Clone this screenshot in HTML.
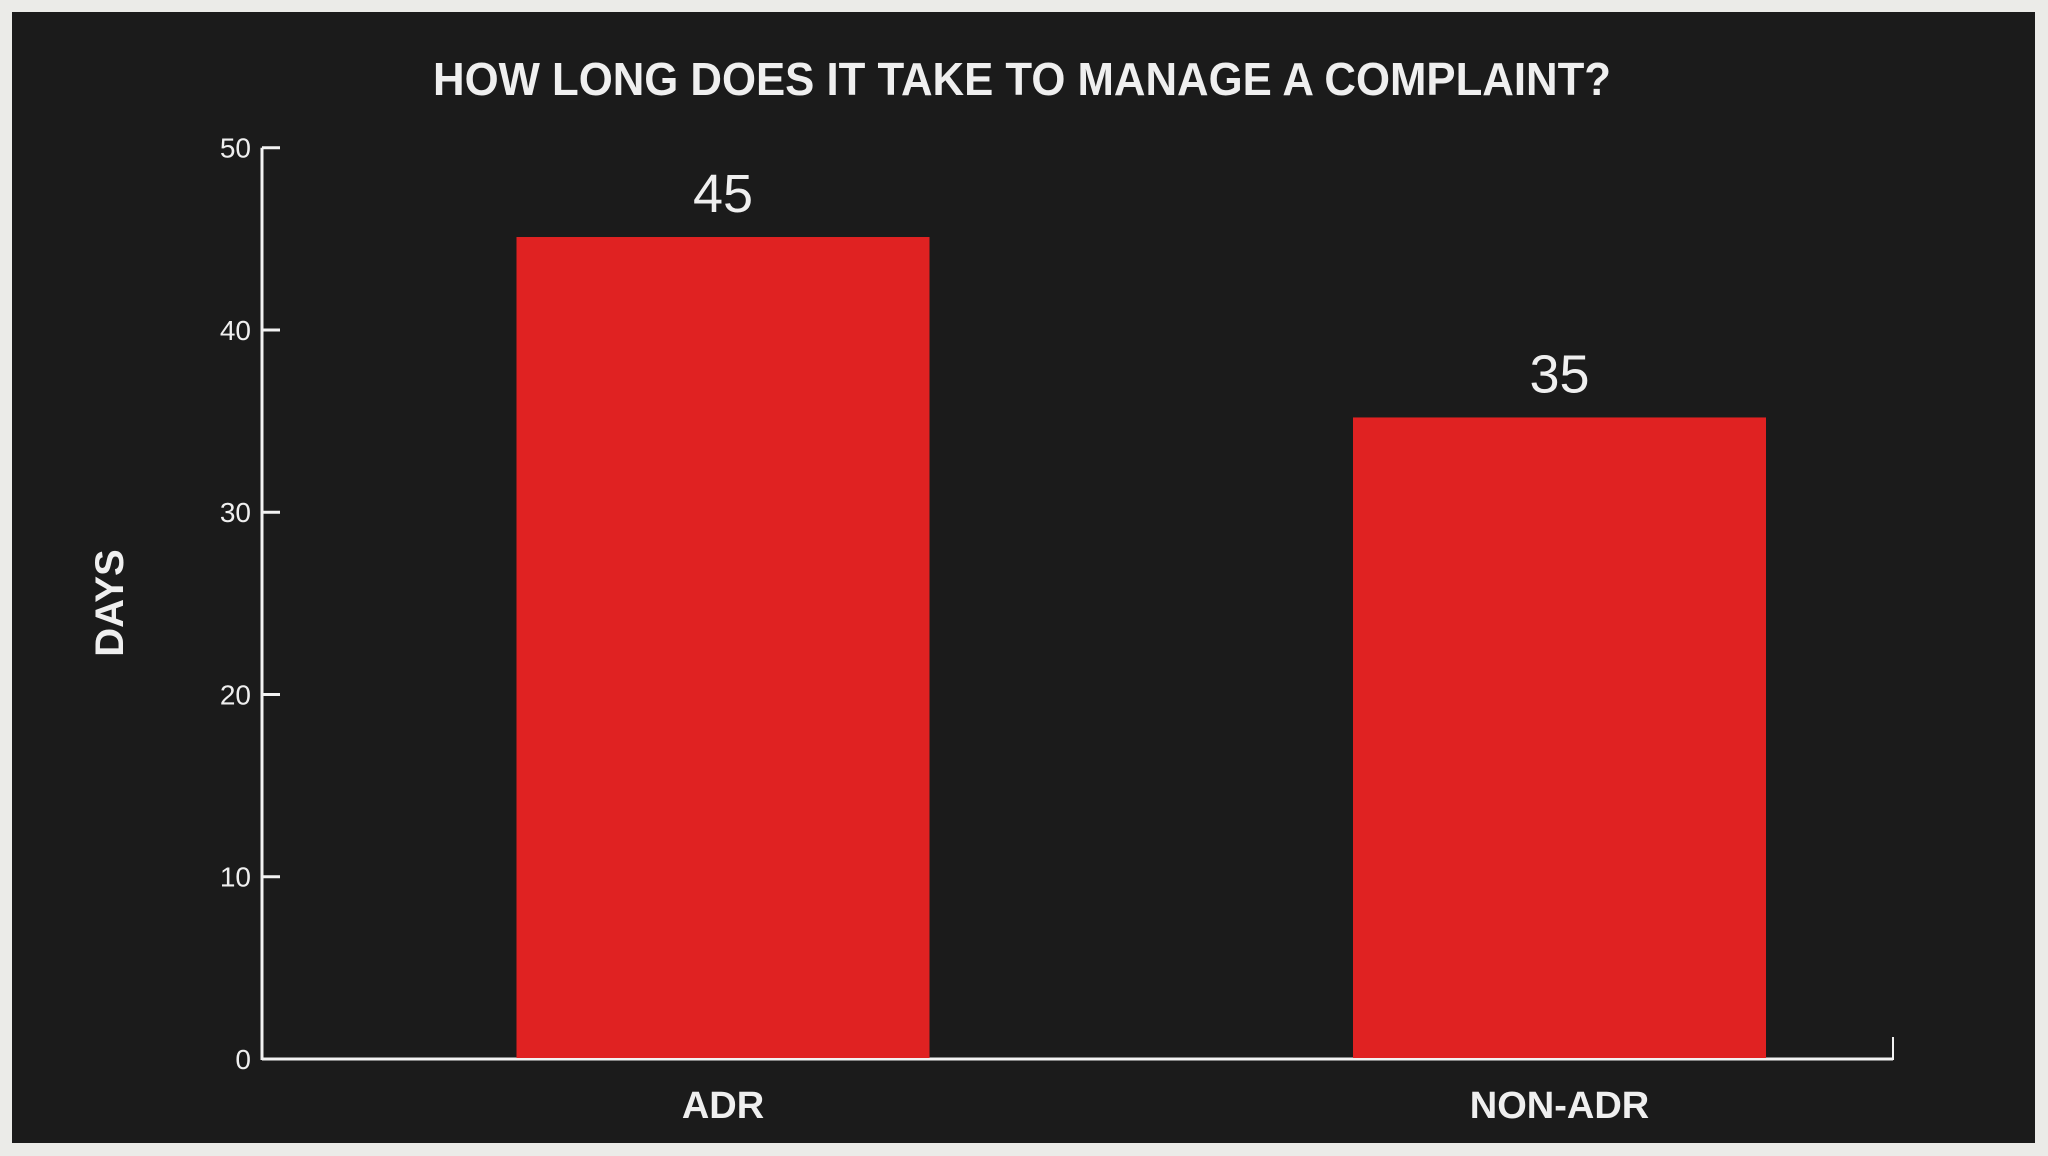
<!DOCTYPE html>
<html><head><meta charset="utf-8"><style>
html,body{margin:0;padding:0;background:#ebebe8;}
svg{display:block;}
text{font-family:"Liberation Sans",sans-serif;fill:#efefef;}
</style></head><body>
<svg id="chart" width="2048" height="1156" viewBox="0 0 2048 1156">
<rect x="0" y="0" width="2048" height="1156" fill="#ebebe8"/>
<rect x="12" y="12" width="2023" height="1131" fill="#1b1b1b"/>
<text x="1022" y="95" text-anchor="middle" font-size="46" font-weight="bold" textLength="1178" lengthAdjust="spacingAndGlyphs">HOW LONG DOES IT TAKE TO MANAGE A COMPLAINT?</text>
<text transform="translate(123,603) rotate(-90)" text-anchor="middle" font-size="40" font-weight="bold">DAYS</text>
<g id="axes"></g>
<g id="bars"></g>
</svg>
<script>
const categories = ["ADR", "NON-ADR"];
const values = [45.1, 35.2];
const valueLabels = ["45", "35"];
const yTicks = [0, 10, 20, 30, 40, 50];

const NS = "http://www.w3.org/2000/svg";
const x0 = 262, x1 = 1893, yBase = 1059, yTopPx = 147.7, yMax = 50;
function yScale(v){ return yBase - (v / yMax) * (yBase - yTopPx); }
const band = 836.5;
function xCenter(i){ return x0 + 461 + band * i; }
const barW = 413;

function mk(tag, attrs, parent){
  const e = document.createElementNS(NS, tag);
  for (const k in attrs) e.setAttribute(k, attrs[k]);
  parent.appendChild(e);
  return e;
}
const axes = document.getElementById("axes");
const bars = document.getElementById("bars");

const yLine = mk("line", {x1:x0, y1:yTopPx, x2:x0, y2:yBase+1, stroke:"#f2f2f2", "stroke-width":3}, axes);


const xLine = mk("line", {x1:x0, y1:yBase, x2:x1, y2:yBase, stroke:"#f2f2f2", "stroke-width":3}, axes);


const xEnd = mk("line", {x1:x1, y1:yBase+1, x2:x1, y2:yBase-22, stroke:"#f2f2f2", "stroke-width":2}, axes);



yTicks.forEach(t => {
  const y = yScale(t);
  if (t !== 0) {
    const tk = mk("line", {x1:x0, y1:y, x2:x0+18, y2:y, stroke:"#f2f2f2", "stroke-width":3}, axes);
    
    
  }
  const lb = mk("text", {x:251, y:y+10, "text-anchor":"end", "font-size":28}, axes);
  lb.textContent = t;
  
  
});

categories.forEach((c, i) => {
  const cx = xCenter(i);
  const top = yScale(values[i]);
  const r = mk("rect", {x:cx - barW/2, y:top, width:barW, height:yBase - top - 1, fill:"#e02222"}, bars);
  
  
  const v = mk("text", {x:cx, y:top - 25, "text-anchor":"middle", "font-size":54}, bars);
  v.textContent = valueLabels[i];
  
  
  const cl = mk("text", {x:cx, y:1118, "text-anchor":"middle", "font-size":38, "font-weight":"bold"}, bars);
  cl.textContent = c;
  
  
});
</script>
</body></html>
